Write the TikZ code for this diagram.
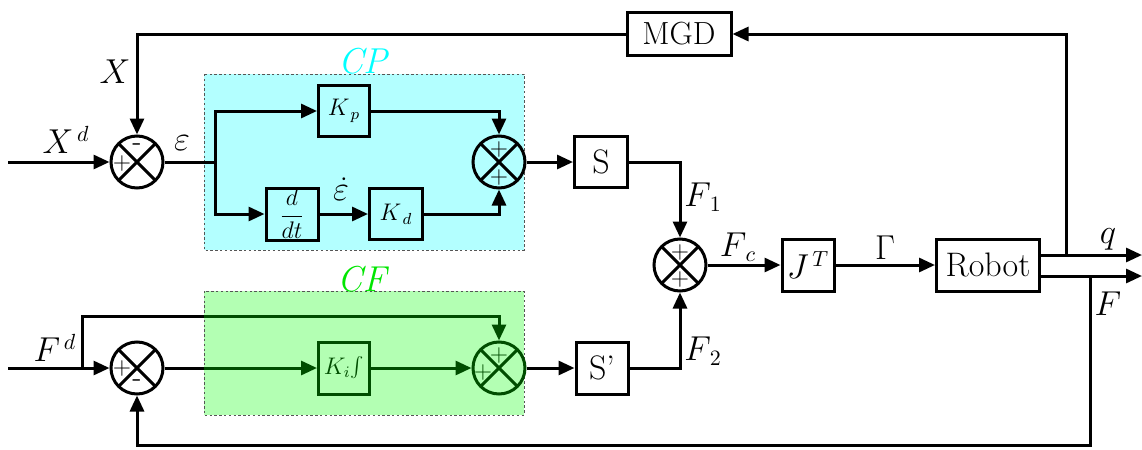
\documentclass[tikz,border=0pt]{standalone}
\usetikzlibrary{arrows.meta,calc}
\definecolor{cpfill}{HTML}{B3FFFF}
\definecolor{cffill}{HTML}{B3FFB3}
\definecolor{cplbl}{HTML}{00FFFF}
\definecolor{cflbl}{HTML}{00E600}
\definecolor{dgreen}{HTML}{004D00}
\definecolor{dashgray}{HTML}{555555}
\begin{document}
\begin{tikzpicture}[x=0.5pt,y=-0.5pt, line width=1.5pt,
  >={Triangle[length=8pt,width=7pt]},
  blk/.style={draw, rectangle, inner sep=0pt, minimum width=26pt, minimum height=26pt},
  sumn/.style={circle, draw=#1, minimum size=26pt, inner sep=0pt,
    path picture={\draw[#1] (path picture bounding box.north west)--(path picture bounding box.south east)
      (path picture bounding box.north east)--(path picture bounding box.south west);}},
  sumn/.default=black,
  sgn/.style={font=\fontsize{13}{13}\selectfont, inner sep=0pt},
  lbl/.style={font=\fontsize{16}{18}\selectfont, inner sep=0pt},
  region/.style={draw=dashgray, line width=0.5pt, dash pattern=on 1.2pt off 1.2pt},
]
\useasboundingbox (0,0) rectangle (1142,450);

% regions
\path[region, fill=cpfill] (204,74) rectangle (524,250);
\path[region, fill=cffill] (204,291) rectangle (524,415);
\node[font=\fontsize{18}{20}\selectfont\itshape, text=cplbl, inner sep=0pt] (cpl) at (363,61) {CP};
\node[font=\fontsize{18}{20}\selectfont\itshape, text=cflbl, inner sep=0pt] (cfl) at (362,279) {CF};

% blocks
\node[blk, minimum width=52pt, minimum height=21.5pt, font=\fontsize{16}{18}\selectfont] (mgd) at (679,34) {MGD};
\node[sumn] (s1) at (137,162) {};
\node[blk, minimum width=25.5pt, minimum height=25.5pt, font=\fontsize{12}{14}\selectfont] (kp) at (344,111) {$K_{\,p}$};
\node[blk, font=\fontsize{11.5}{13}\selectfont] (ddt) at (292,214) {$\displaystyle\frac{d}{dt}$};
\node[blk, minimum width=26.5pt, minimum height=25.5pt, font=\fontsize{12}{14}\selectfont] (kd) at (396,214) {$K_{\,d}$};
\node[sumn] (s2) at (499,162) {};
\node[blk, minimum width=26.5pt, minimum height=25.5pt, font=\fontsize{17}{19}\selectfont] (sb) at (601,162) {S};
\node[sumn] (s3) at (680,265) {};
\node[blk, font=\fontsize{16}{18}\selectfont] (jt) at (808,265) {$J^{\,T}$};
\node[blk, minimum width=51.5pt, font=\fontsize{17}{19}\selectfont] (robot) at (988,265) {Robot};
\node[sumn] (s4) at (137,368) {};
\node[blk, draw=dgreen, text=dgreen, minimum width=25.5pt, font=\fontsize{12}{14}\selectfont] (ki) at (344,368) {$K_{i}\!\int$};
\node[sumn=dgreen] (s5) at (499,368) {};
\node[blk, font=\fontsize{17}{19}\selectfont] (sp) at (602,368) {S'};

% signs
\node[sgn] (s1p) at (122,163) {$+$};
\node[sgn, font=\fontsize{14}{14}\selectfont] (s1m) at (137,147) {-};
\node[sgn] (s2a) at (499,149) {$+$};
\node[sgn] (s2b) at (499,177) {$+$};
\node[sgn] (s3a) at (680,252) {$+$};
\node[sgn] (s3b) at (680,279) {$+$};
\node[sgn] (s4p) at (122,368) {$+$};
\node[sgn, font=\fontsize{14}{14}\selectfont] (s4m) at (137,383) {-};
\node[sgn, text=dgreen] (s5a) at (499,355) {$+$};
\node[sgn, text=dgreen] (s5b) at (483,372) {$+$};

% labels
\node[lbl] (lxd) at (66,140) {$X^{\,d}$};
\node[lbl] (lx) at (115,72) {$X$};
\node[lbl] (leps) at (182,143) {$\varepsilon$};
\node[lbl] (ledot) at (341,189) {$\dot{\varepsilon}$};
\node[lbl] (lf1) at (703,197) {$F_{\,1}$};
\node[lbl] (lf2) at (703,351) {$F_{\,2}$};
\node[lbl] (lfc) at (738,247) {$F_{\,c}$};
\node[lbl] (lgam) at (885,248) {$\Gamma$};
\node[lbl] (lq) at (1108,239) {$q$};
\node[lbl] (lf) at (1108,304) {$F$};
\node[lbl] (lfd) at (55,348) {$F^{\,d}$};

% coordinates
\coordinate (xin) at (8,162);
\coordinate (fin) at (8,368);
\coordinate (br) at (215,162);
\coordinate (fdtap) at (82,368);
\coordinate (fdedge) at (204,316);
\coordinate (cfedge) at (204,368);
\coordinate (qout) at (1142,255);
\coordinate (fout) at (1142,276);
\coordinate (qtap) at (1066,255);
\coordinate (ftap) at (1090,276);
\coordinate (fbot) at (1090,445);

% connectors
\draw[->] (xin) -- (s1.west);
\draw[->] (mgd.west) -| (s1.north);
\draw (s1.east) -- (br);
\draw[->] (br) |- (kp.west);
\draw[->] (br) |- (ddt.west);
\draw[->] (ddt.east) -- (kd.west);
\draw[->] (kp.east) -| (s2.north);
\draw[->] (kd.east) -| (s2.south);
\draw[->] (s2.east) -- (sb.west);
\draw[->] (sb.east) -| (s3.north);
\draw[->] (sp.east) -| (s3.south);
\draw[->] (s3.east) -- (jt.west);
\draw[->] (jt.east) -- (robot.west);
\draw[->] (robot.east |- qout) -- (qout);
\draw[->] (robot.east |- fout) -- (fout);
\draw[->] (qtap) |- (mgd.east);
\draw[->] (ftap) -- (fbot) -| (s4.south);
\draw[->] (fin) -- (s4.west);
\draw (fdtap) |- (fdedge);
\draw[->, dgreen] (fdedge) -| (s5.north);
\draw (s4.east) -- (cfedge);
\draw[->, dgreen] (cfedge) -- (ki.west);
\draw[->, dgreen] (ki.east) -- (s5.west);
\draw[->] (s5.east) -- (sp.west);
\end{tikzpicture}
\end{document}
